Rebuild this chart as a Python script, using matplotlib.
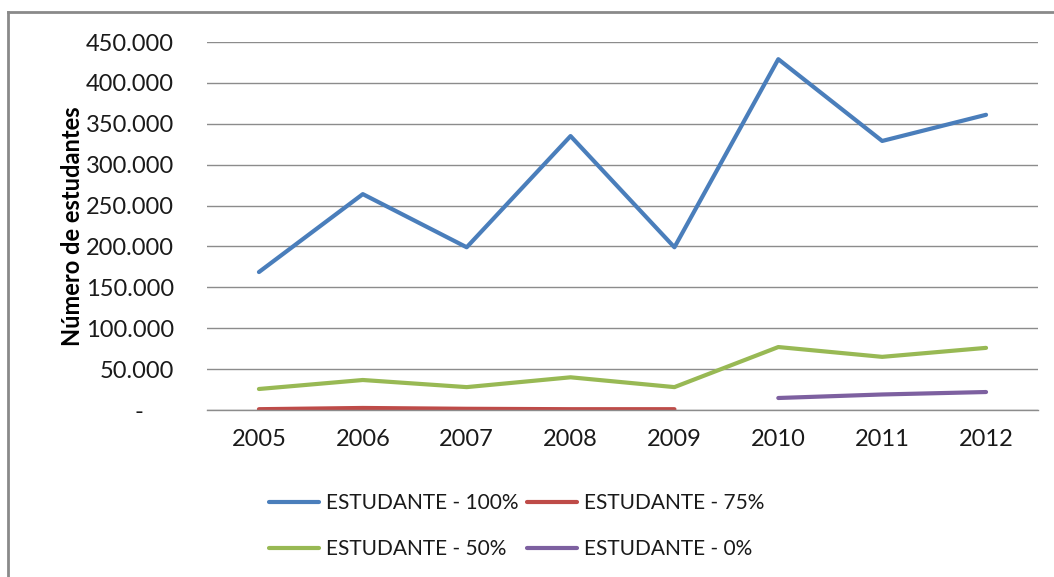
import matplotlib
matplotlib.use("Agg")
import matplotlib.pyplot as plt
from matplotlib.lines import Line2D
from matplotlib.ticker import FuncFormatter
import numpy as np

# ── data ────────────────────────────────────────────────────────────
anos = ["2005", "2006", "2007", "2008", "2009", "2010", "2011", "2012"]
est_100 = [168700, 264000, 199000, 335000, 199000, 429000, 329000, 361000]
est_75 = [1000, 2500, 1500, 1000, 1000, None, None, None]
est_50 = [25700, 36700, 28000, 40000, 28000, 77000, 65000, 76000]
est_0 = [None, None, None, None, None, 14700, 19000, 22000]

series = [
    ("ESTUDANTE - 100%", est_100, "#4A7EBB"),
    ("ESTUDANTE - 75%", est_75, "#BE4B48"),
    ("ESTUDANTE - 50%", est_50, "#98B954"),
    ("ESTUDANTE - 0%", est_0, "#7D60A0"),
]

FONT = "Lato"
GRID = "#8C8C8C"

fig = plt.figure(figsize=(10.54, 5.77), dpi=100)
fig.patch.set_facecolor("white")
ax = fig.add_axes([0.1964, 0.2894, 0.7884, 0.6378])

x = np.arange(len(anos))
handles = []
for name, vals, col in series:
    y = np.array([np.nan if v is None else v for v in vals], dtype=float)
    h, = ax.plot(x, y, color=col, lw=3.0, solid_capstyle="round",
                 solid_joinstyle="round", label=name)
    handles.append(h)

ax.set_xlim(-0.5, len(anos) - 0.5)
ax.set_ylim(0, 450000)
ax.set_yticks(np.arange(0, 450001, 50000))
ax.set_xticks(x)
ax.set_xticklabels(anos)


def fmt(v, pos):
    if v == 0:
        return "-     "
    return f"{int(v):,}".replace(",", ".")


ax.yaxis.set_major_formatter(FuncFormatter(fmt))
ax.yaxis.grid(True, color=GRID, lw=1.0)
ax.set_axisbelow(True)
for s in ("top", "right", "left"):
    ax.spines[s].set_visible(False)
ax.spines["bottom"].set_color(GRID)
ax.spines["bottom"].set_linewidth(1.0)
ax.tick_params(axis="both", length=0, labelsize=17, labelcolor="#1a1a1a")
ax.tick_params(axis="y", pad=24)
ax.tick_params(axis="x", pad=14)
for lb in ax.get_xticklabels() + ax.get_yticklabels():
    lb.set_fontfamily(FONT)

ax.set_ylabel("Número de estudantes", fontsize=17, fontweight="bold",
              fontfamily=FONT, color="black")
ax.yaxis.set_label_coords(-0.148, 0.50)

# row-wise legend order as in the reference
order = [0, 2, 1, 3]
leg = fig.legend([handles[i] for i in order],
                 [series[i][0] for i in order],
                 loc="center", bbox_to_anchor=(0.49, 0.088), ncol=2,
                 frameon=False, prop={"family": FONT, "size": 15},
                 handlelength=2.4, handletextpad=0.35, columnspacing=0.4,
                 labelspacing=1.25)
for t in leg.get_texts():
    t.set_color("#1a1a1a")

# outer chart border (only top and left edges visible in the crop)
fig.add_artist(Line2D([8 / 1054, 8 / 1054], [0, 1 - 12 / 577],
                      transform=fig.transFigure, color="#8A8A8A", lw=2))
fig.add_artist(Line2D([8 / 1054, 1], [1 - 12 / 577, 1 - 12 / 577],
                      transform=fig.transFigure, color="#8A8A8A", lw=2))

fig.savefig("out.png", dpi=100, facecolor="white")
